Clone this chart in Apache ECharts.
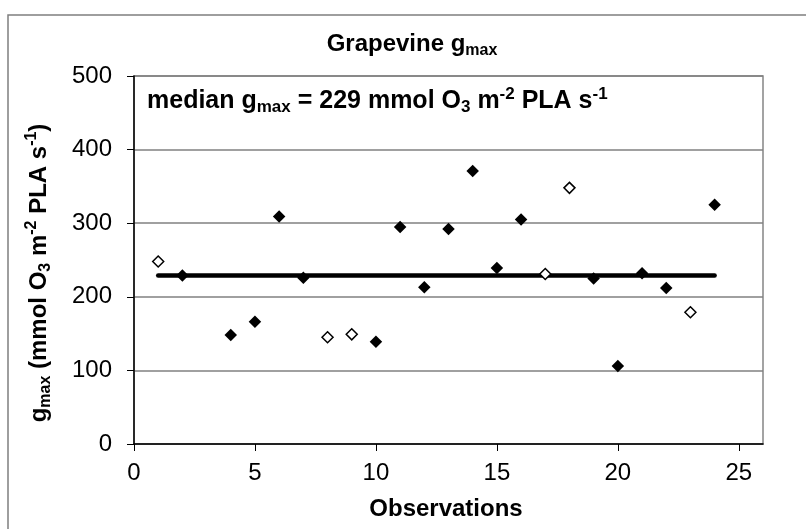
<!DOCTYPE html>
<html>
<head>
<meta charset="utf-8">
<script src="https://cdn.jsdelivr.net/npm/echarts@6/dist/echarts.min.js"></script>
<style>
html,body{margin:0;padding:0;background:#fff;}
#chart{width:806px;height:529px;}
</style>
</head>
<body>
<div id="chart"></div>
<script>
// ---- data ----
var obsFilled = [2, 4, 5, 6, 7, 10, 11, 12, 13, 14, 15, 16, 19, 20, 21, 22, 24];
var gmaxFilled = [229, 148, 166, 309, 226, 139, 295, 213, 292, 371, 239, 305, 225, 106, 232, 212, 325];
var obsOpen = [1, 8, 9, 17, 18, 23];
var gmaxOpen = [248, 145, 149, 231, 348, 179];
var medianValue = 229;
var medianRange = [1, 24];
var xTicks = [0, 5, 10, 15, 20, 25];
var yTicks = [0, 100, 200, 300, 400, 500];

var FONT = "'Liberation Sans', Arial, sans-serif";

function pairs(xs, ys) { return xs.map(function (x, i) { return [x, ys[i]]; }); }

var chart = echarts.init(document.getElementById('chart'), null, {renderer: 'canvas'});

function st(size, lh, va) {
  var o = {fontFamily: FONT, fontWeight: 'bold', fontSize: size, lineHeight: lh, fill: '#000', color: '#000'};
  if (va) o.verticalAlign = va;
  return o;
}
var mainStyle = st(24, 30);
var subStyle = st(16, 15, 'bottom');
var supStyle = st(16, 22, 'top');
var annMain = st(25, 30);
var annSub = st(17, 15, 'bottom');
var annSup = st(17, 22, 'top');

var option = {
  animation: false,
  backgroundColor: '#fff',
  grid: {left: 134, top: 76, width: 629, height: 368, show: true, borderColor: '#858585', borderWidth: 1.5, containLabel: false},
  xAxis: {
    type: 'value', min: 0, max: 26, interval: 5,
    axisLine: {show: true, onZero: false, lineStyle: {color: '#000', width: 1.5}},
    axisTick: {show: true, length: 7, lineStyle: {color: '#000', width: 1}, customValues: xTicks},
    axisLabel: {show: true, margin: 17, fontFamily: FONT, fontSize: 24, color: '#000', customValues: xTicks},
    splitLine: {show: false}
  },
  yAxis: {
    type: 'value', min: 0, max: 500, interval: 100,
    axisLine: {show: true, onZero: false, lineStyle: {color: '#000', width: 1.5}},
    axisTick: {show: true, length: 7, lineStyle: {color: '#000', width: 1}, customValues: yTicks},
    axisLabel: {show: true, margin: 22, fontFamily: FONT, fontSize: 24, color: '#000', customValues: yTicks},
    splitLine: {show: true, lineStyle: {color: '#808080', width: 1.5}}
  },
  series: [
    {
      type: 'line', z: 2,
      data: medianRange.map(function (x) { return [x, medianValue]; }),
      showSymbol: false, symbol: 'none',
      lineStyle: {color: '#000', width: 4.5, cap: 'round'}
    },
    {
      type: 'scatter', z: 3,
      data: pairs(obsFilled, gmaxFilled),
      symbol: 'diamond', symbolSize: 12.5,
      itemStyle: {color: '#000', opacity: 1}
    },
    {
      type: 'scatter', z: 4,
      data: pairs(obsOpen, gmaxOpen),
      symbol: 'diamond', symbolSize: 11,
      itemStyle: {color: '#fff', borderColor: '#000', borderWidth: 1.5, opacity: 1}
    }
  ],
  graphic: [
    {
      type: 'rect', silent: true, z: 0,
      shape: {x: 8, y: 15, width: 900, height: 600},
      style: {fill: null, stroke: '#7f7f7f', lineWidth: 1.5}
    },
    {
      type: 'text', silent: true, x: 412, y: 44,
      style: {
        text: '{m|Grapevine g}{s|max}',
        align: 'center', verticalAlign: 'middle',
        rich: {m: mainStyle, s: subStyle}
      }
    },
    {
      type: 'text', silent: true, x: 147, y: 101,
      style: {
        text: '{m|median g}{s|max}{m| = 229 mmol O}{s|3}{m| m}{p|-2}{m| PLA s}{p|-1}',
        align: 'left', verticalAlign: 'middle',
        rich: {m: annMain, s: annSub, p: annSup}
      }
    },
    {
      type: 'text', silent: true, x: 39, y: 273, rotation: Math.PI / 2,
      style: {
        text: '{m|g}{s|max}{m| (mmol O}{s|3}{m| m}{p|-2}{m| PLA s}{p|-1}{m|)}',
        align: 'center', verticalAlign: 'middle',
        rich: {m: mainStyle, s: subStyle, p: supStyle}
      }
    },
    {
      type: 'text', silent: true, x: 446, y: 509,
      style: {
        text: 'Observations', align: 'center', verticalAlign: 'middle',
        fontFamily: FONT, fontWeight: 'bold', fontSize: 24, fill: '#000'
      }
    }
  ]
};
chart.setOption(option);
</script>
</body>
</html>
